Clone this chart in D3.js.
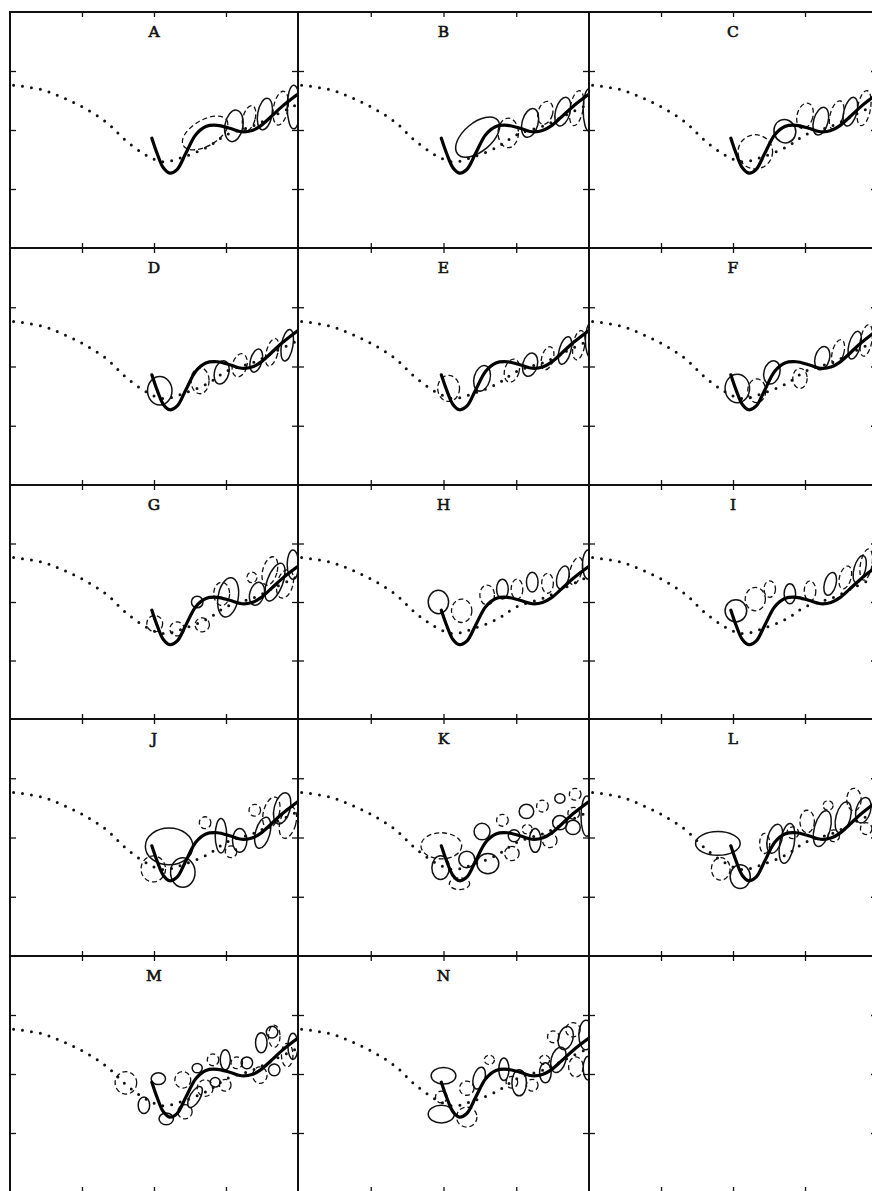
<!DOCTYPE html>
<html>
<head>
<meta charset="utf-8">
<script src="https://d3js.org/d3.v7.min.js"></script>
<style>
  body { margin: 0; background: #fff; }
  svg { display: block; }
</style>
</head>
<body>
<svg id="chart" width="872" height="1191"></svg>
<script>
// panel labels, one per small plot (the last cell of the grid is empty)
const labels = ['A', 'B', 'C', 'D', 'E', 'F', 'G', 'H', 'I', 'J', 'K', 'L', 'M', 'N', ''];
const tickValues = [1, 2, 3];

// the dotted reference curve (same in every panel)
const dottedX = [0.05, 0.45, 0.75, 1.05, 1.35, 1.6, 1.88, 2.13, 2.4, 2.74, 3.01, 3.4, 3.68, 4.0];
const dottedY = [2.76, 2.68, 2.54, 2.36, 2.12, 1.83, 1.58, 1.46, 1.54, 1.71, 1.92, 2.08, 2.25, 2.44];

// the thick solid curve (same in every panel)
const thickX = [1.97, 2.05, 2.13, 2.22, 2.32, 2.44, 2.58, 2.72, 2.88, 3.05, 3.22, 3.36, 3.48, 3.62, 3.78, 3.99];
const thickY = [1.86, 1.58, 1.36, 1.27, 1.33, 1.60, 1.92, 2.06, 2.08, 2.03, 1.97, 1.99, 2.07, 2.22, 2.40, 2.60];

// loops: [x, y, half-width, half-height, tilt]
const solidA = [[3.11, 2.07, .125, .27, 10], [3.54, 2.27, .10, .27, 10], [3.94, 2.39, .09, .37]];
const dashedA = [[2.71, 1.95, .35, .22, -30], [3.32, 2.20, .085, .22, 15], [3.76, 2.37, .10, .29, 10]];
const solidB = [[2.47, 1.88, .36, .24, -40], [3.19, 2.12, .11, .25, 15], [3.64, 2.31, .10, .25, 15], [4.0, 2.34, .08, .36]];
const dashedB = [[2.89, 1.95, .14, .25], [3.40, 2.29, .10, .20, 15], [3.83, 2.37, .09, .30, 10]];
const solidC = [[2.72, 1.98, .15, .2, -20], [3.22, 2.15, .10, .24, 15], [3.63, 2.31, .09, .25, 15]];
const dashedC = [[2.31, 1.63, .24, .29], [3.0, 2.24, .11, .22, 15], [3.44, 2.25, .09, .25, 15], [3.82, 2.37, .09, .30, 10]];
const solidD = [[2.08, 1.59, .17, .24], [2.94, 1.90, .10, .2, 15], [3.42, 2.10, .08, .2, 15], [3.85, 2.36, .08, .27, 10]];
const dashedD = [[2.64, 1.76, .125, .22], [3.19, 2.02, .1, .2, 15], [3.64, 2.24, .08, .24, 15]];
const solidE = [[2.53, 1.80, .11, .22, 15], [3.19, 2.03, .1, .2, 15], [3.67, 2.27, .08, .24, 15], [4.03, 2.44, .08, .3]];
const dashedE = [[2.07, 1.63, .15, .22], [2.94, 1.93, .1, .2, 15], [3.43, 2.14, .08, .2, 15], [3.86, 2.36, .08, .25, 10]];
const solidF = [[2.06, 1.63, .17, .24], [2.54, 1.90, .11, .2, 15], [3.24, 2.14, .1, .2, 15], [3.69, 2.36, .08, .24, 15]];
const dashedF = [[2.33, 1.59, .125, .2], [2.93, 1.80, .1, .17], [3.46, 2.24, .08, .22, 15], [3.85, 2.44, .08, .27, 10]];
const solidG = [[2.60, 2.0, .08, .1], [3.03, 2.08, .14, .34, 10], [3.43, 2.14, .1, .2, 15], [3.68, 2.34, .11, .34, 20], [3.93, 2.64, .08, .25]];
const dashedG = [[2.01, 1.63, .11, .14], [2.32, 1.54, .1, .12], [2.67, 1.61, .1, .12], [2.94, 2.14, .11, .2], [3.36, 2.42, .07, .09], [3.61, 2.53, .1, .25, 15], [3.82, 2.31, .11, .25, 15]];
const solidH = [[1.93, 2.0, .14, .2], [2.81, 2.22, .08, .17], [3.22, 2.34, .08, .17], [3.64, 2.42, .08, .2, 15], [3.99, 2.64, .08, .25]];
const dashedH = [[2.25, 1.85, .14, .2], [2.60, 2.12, .1, .17], [3.01, 2.22, .08, .17], [3.43, 2.32, .08, .17], [3.82, 2.53, .08, .24, 15]];
const solidI = [[2.04, 1.85, .15, .19], [2.79, 2.14, .08, .17], [3.35, 2.31, .08, .2, 15], [3.76, 2.56, .08, .24, 15]];
const dashedI = [[2.31, 2.05, .14, .2], [2.51, 2.22, .08, .14], [3.07, 2.19, .08, .17], [3.56, 2.42, .08, .2, 15], [3.85, 2.64, .08, .27, 10]];
const solidJ = [[2.21, 1.85, .33, .31], [2.40, 1.41, .17, .25], [2.93, 2.03, .08, .29], [3.19, 1.95, .1, .2], [3.51, 2.08, .1, .27, 15], [3.78, 2.49, .11, .27, 15]];
const dashedJ = [[1.99, 1.47, .17, .22], [2.71, 2.25, .08, .1], [3.07, 1.76, .08, .1], [3.40, 2.46, .08, .1], [3.63, 2.42, .11, .27, 15], [3.86, 2.25, .11, .27, 15]];
const solidK = [[1.96, 1.49, .12, .2], [2.32, 1.63, .11, .14], [2.61, 1.56, .15, .17], [2.53, 2.10, .11, .14], [2.97, 2.03, .08, .1], [3.14, 2.44, .1, .12], [3.26, 1.95, .08, .2], [3.60, 2.25, .1, .12], [3.60, 2.66, .07, .08], [3.78, 2.17, .1, .12], [3.97, 2.36, .08, .34]];
const dashedK = [[1.97, 1.86, .28, .22], [2.22, 1.22, .14, .1], [2.81, 2.29, .08, .1], [2.94, 1.73, .1, .12], [3.15, 2.14, .07, .08], [3.36, 2.53, .08, .1], [3.46, 1.95, .1, .12], [3.79, 2.41, .08, .1], [3.81, 2.73, .08, .1]];
const solidL = [[1.79, 1.90, .31, .2], [2.10, 1.34, .14, .2], [2.58, 1.98, .1, .25, 15], [2.75, 1.90, .1, .34, 10], [3.24, 2.15, .11, .31, 15], [3.53, 2.34, .1, .27, 15], [3.81, 2.46, .1, .22, 15]];
const dashedL = [[1.83, 1.47, .13, .19], [2.44, 1.90, .07, .17], [2.83, 2.08, .08, .1], [3.03, 2.27, .1, .19], [3.32, 2.54, .07, .08], [3.40, 2.03, .08, .1], [3.68, 2.64, .1, .19], [3.85, 2.15, .08, .1]];
const solidM = [[1.86, 1.47, .08, .14], [2.06, 1.92, .1, .1], [2.17, 1.24, .1, .1], [2.57, 1.61, .07, .2, 30], [2.60, 2.10, .07, .08], [2.85, 1.86, .07, .08], [2.99, 2.24, .07, .17], [3.29, 2.19, .08, .1], [3.49, 2.53, .08, .17], [3.64, 2.71, .08, .1], [3.67, 2.07, .08, .1], [3.93, 2.47, .07, .22]];
const dashedM = [[1.61, 1.85, .15, .19], [2.40, 1.90, .11, .14], [2.43, 1.36, .1, .12], [2.71, 1.76, .11, .14], [2.82, 2.24, .08, .1], [2.99, 1.81, .08, .1], [3.15, 2.19, .08, .1], [3.67, 2.64, .08, .19], [3.47, 1.98, .1, .14], [3.85, 2.32, .08, .2]];
const solidN = [[2.0, 1.97, .17, .14], [1.97, 1.32, .18, .15], [2.49, 1.93, .08, .19, 15], [2.83, 2.08, .07, .19], [3.04, 1.85, .1, .22], [3.40, 2.02, .08, .17], [3.58, 2.24, .1, .22, 15], [3.68, 2.61, .1, .2, 15], [3.96, 2.66, .1, .25], [3.99, 2.10, .07, .2]];
const dashedN = [[2.32, 1.27, .14, .17], [1.97, 1.61, .08, .1], [2.32, 1.76, .1, .12], [2.63, 2.24, .07, .08], [2.94, 1.86, .08, .1], [3.22, 1.81, .08, .1], [3.39, 2.24, .07, .08], [3.51, 2.63, .08, .1], [3.78, 2.75, .1, .12], [3.82, 2.12, .1, .17]];

const solidLoops = [solidA, solidB, solidC, solidD, solidE, solidF, solidG, solidH, solidI, solidJ, solidK, solidL, solidM, solidN, []];
const dashedLoops = [dashedA, dashedB, dashedC, dashedD, dashedE, dashedF, dashedG, dashedH, dashedI, dashedJ, dashedK, dashedL, dashedM, dashedN, []];

// grid layout
const colLeft = [10, 298, 589];
const colWidth = [288, 291, 288];
const rowTop = [12, 248, 485, 719, 956];
const rowHeight = [236, 237, 234, 237, 236];

const svg = d3.select('#chart');
const defs = svg.append('defs');

const dotted = dottedX.map((v, i) => [v, dottedY[i]]);
const thick = thickX.map((v, i) => [v, thickY[i]]);

labels.forEach((label, i) => {
  const col = i % 3, row = Math.floor(i / 3);
  const left = colLeft[col], top = rowTop[row], w = colWidth[col], h = rowHeight[row];
  const x = d3.scaleLinear().domain([0, 4]).range([left, left + w]);
  const y = d3.scaleLinear().domain([0, 4]).range([top + h, top]);

  defs.append('clipPath').attr('id', 'clip' + i)
    .append('rect').attr('x', left).attr('y', top).attr('width', w).attr('height', h);

  const g = svg.append('g');
  const plot = g.append('g').attr('clip-path', `url(#clip${i})`);

  if (label) {
    const line = d3.line().x(d => x(d[0])).y(d => y(d[1])).curve(d3.curveCatmullRom);

    plot.append('path').attr('d', line(dotted))
      .attr('fill', 'none').attr('stroke', '#111')
      .attr('stroke-width', 3).attr('stroke-linecap', 'round')
      .attr('stroke-dasharray', '0 9');

    const ell = (sel, cls) => sel.selectAll('ellipse.' + cls)
      .data(cls === 'solid' ? solidLoops[i] : dashedLoops[i])
      .join('ellipse')
      .attr('class', cls)
      .attr('cx', d => x(d[0])).attr('cy', d => y(d[1]))
      .attr('rx', d => x(d[2]) - x(0)).attr('ry', d => y(0) - y(d[3]))
      .attr('transform', d => `rotate(${d[4] || 0},${x(d[0])},${y(d[1])})`)
      .attr('fill', 'none').attr('stroke', '#111');

    ell(plot, 'dashed').attr('stroke-width', 1.3).attr('stroke-dasharray', '5 3');
    ell(plot, 'solid').attr('stroke-width', 1.5);

    plot.append('path').attr('d', line(thick))
      .attr('fill', 'none').attr('stroke', '#000')
      .attr('stroke-width', 3.2).attr('stroke-linecap', 'round');

    g.append('text')
      .attr('x', x(2)).attr('y', top + 25)
      .attr('text-anchor', 'middle')
      .attr('fill', '#111').attr('stroke', '#111').attr('stroke-width', 0.6)
      .style('font', '15.5px "DejaVu Serif", serif')
      .text(label);
  }

  // inward ticks on all four sides
  const fmt = () => '';
  g.append('g').attr('transform', `translate(0,${top})`)
    .call(d3.axisBottom(x).tickValues(tickValues).tickSize(5).tickFormat(fmt));
  g.append('g').attr('transform', `translate(0,${top + h})`)
    .call(d3.axisTop(x).tickValues(tickValues).tickSize(5).tickFormat(fmt));
  g.append('g').attr('transform', `translate(${left},0)`)
    .call(d3.axisRight(y).tickValues(tickValues).tickSize(6).tickFormat(fmt));
  g.append('g').attr('transform', `translate(${left + w},0)`)
    .call(d3.axisLeft(y).tickValues(tickValues).tickSize(6).tickFormat(fmt));
  g.selectAll('.domain').remove();
  g.selectAll('.tick line').attr('stroke', '#111').attr('stroke-width', 1.3);

  g.append('rect')
    .attr('x', left).attr('y', top).attr('width', w).attr('height', h)
    .attr('fill', 'none').attr('stroke', '#111').attr('stroke-width', 2);
});
</script>
</body>
</html>
